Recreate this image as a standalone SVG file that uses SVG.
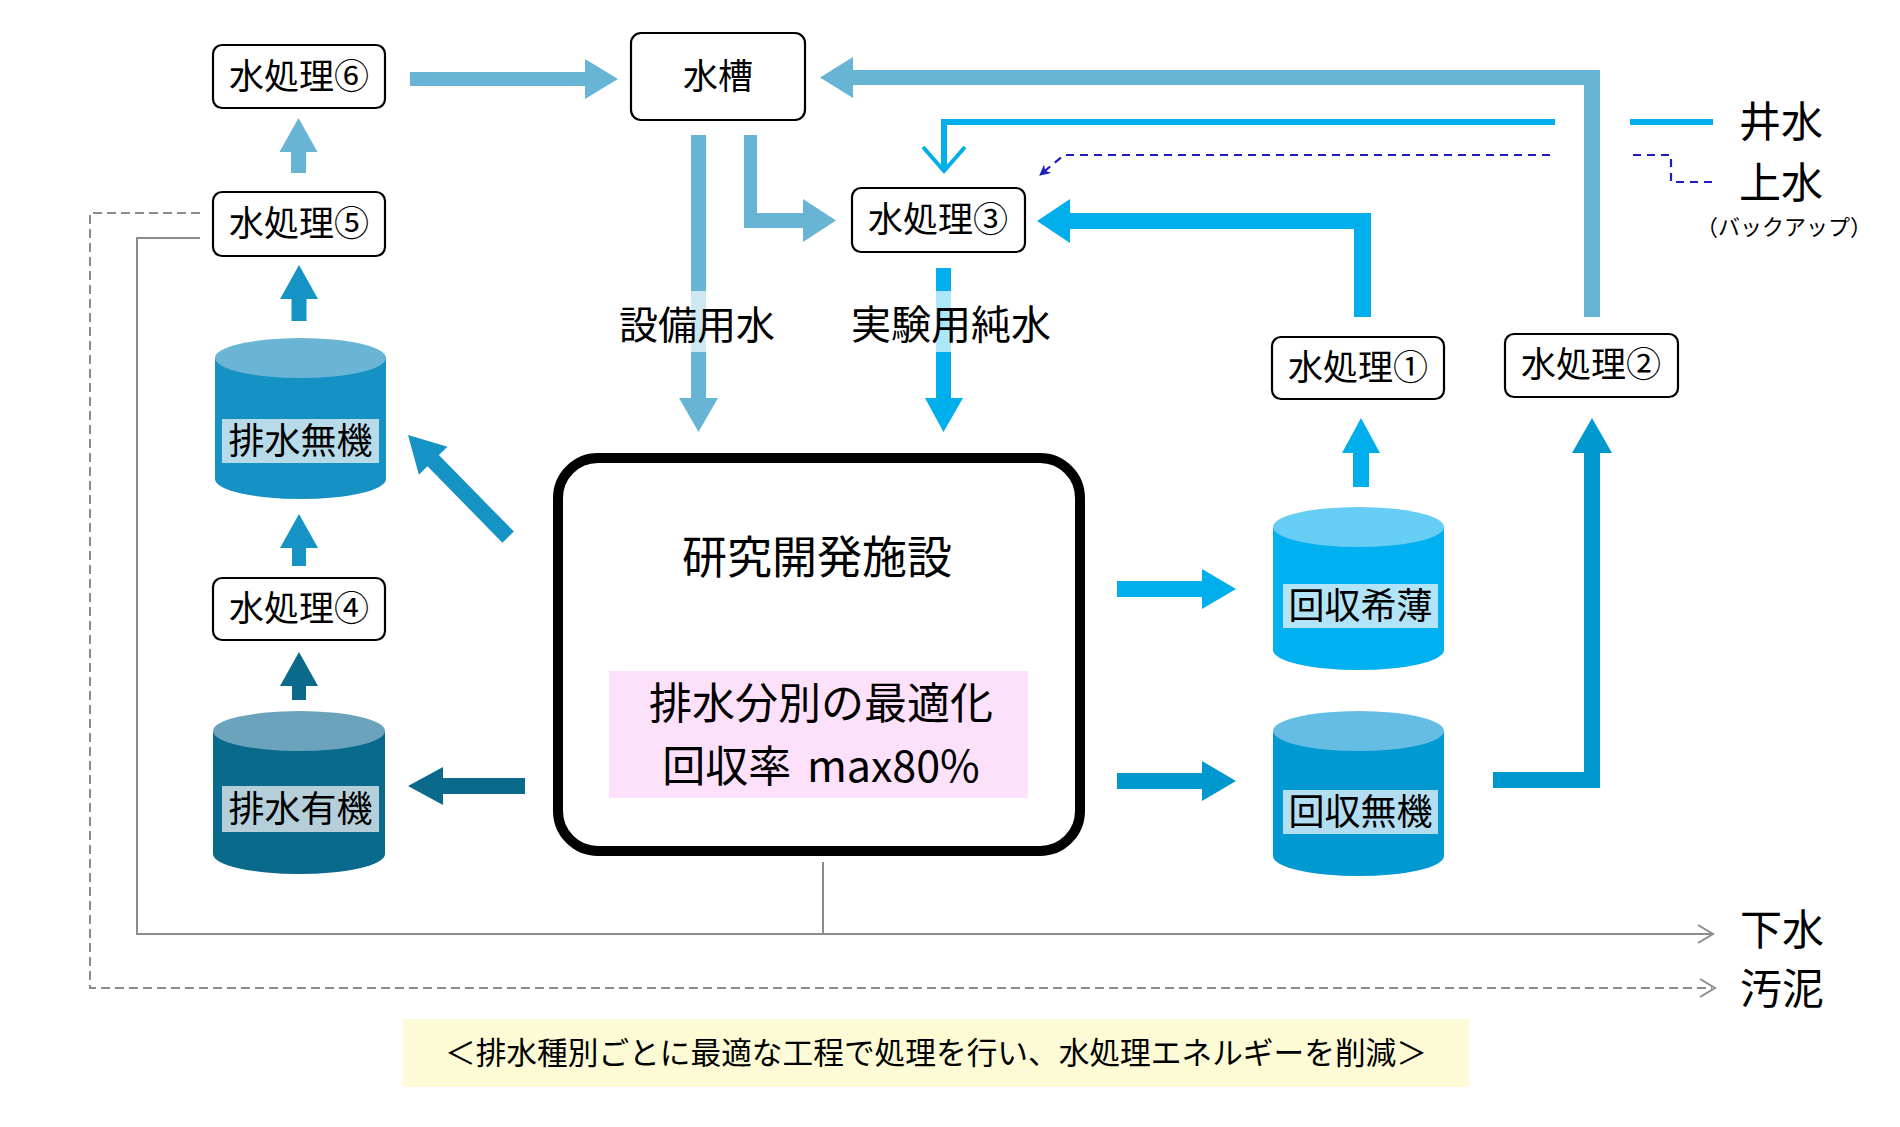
<svg xmlns="http://www.w3.org/2000/svg" width="1900" height="1127" viewBox="0 0 1900 1127">
<style>
text{font-family:"Noto Sans CJK JP","Noto Sans",sans-serif;fill:#000}
.box{fill:#fff;stroke:#000;stroke-width:2.2}
.bl{font-size:35px;text-anchor:middle}
.cl{font-size:36px;text-anchor:middle}
.big{font-size:45px;text-anchor:middle}
.side{font-size:42px}
.A{fill:#68b4d4}
.B{fill:#1593c5}
.C{fill:#0b6a8c}
.D{fill:#00aeeb}
.E{fill:#0099cf}
.gray{fill:none;stroke:#8c8c8c;stroke-width:2}
.lbg{fill:#fff;fill-opacity:0.68}
</style>
<defs>
<marker id="dh" viewBox="0 0 10 10" refX="9" refY="5" markerWidth="5" markerHeight="5" orient="auto" markerUnits="strokeWidth">
<path d="M0,0 L10,5 L0,10 L3,5 Z" fill="#1c1cc0"/>
</marker>
</defs>
<rect width="1900" height="1127" fill="#fff"/>

<g id="connectors">
<path class="gray" d="M200,238 H137 V934 H1711"/>
<path class="gray" d="M823,862 V934"/>
<path class="gray" d="M1698,925 L1713,934 L1698,943"/>
<path class="gray" d="M200,213 H90 V988 H1712" stroke-dasharray="9,5"/>
<path class="gray" d="M1700,979 L1715,988 L1700,997"/>
<path d="M1713,122 H1630" fill="none" stroke="#00aeeb" stroke-width="6"/>
<path d="M1555,122 H944 V168" fill="none" stroke="#00aeeb" stroke-width="6"/>
<path d="M923,147 L944,171 L965,147" fill="none" stroke="#00aeeb" stroke-width="4"/>
<path d="M1712,182 H1671 V155 H1628" fill="none" stroke="#1c1cc0" stroke-width="2.2" stroke-dasharray="8,6"/>
<path d="M1550,155 H1064 L1040,175" fill="none" stroke="#1c1cc0" stroke-width="2.2" stroke-dasharray="8,6" marker-end="url(#dh)"/>

<polygon class="A" points="410,72 585,72 585,59 618,79 585,99 585,86 410,86"/>
<polygon class="A" points="291,173 291,152 279.5,152 298.5,118 317.5,152 306,152 306,173"/>
<polygon class="B" points="291.5,321 291.5,299 280,299 299,265 318,299 306.5,299 306.5,321"/>
<polygon class="B" points="292,566 292,548 280,548 299,514 318,548 306,548 306,566"/>
<polygon class="C" points="292,700 292,686 280,686 299,652 318,686 306,686 306,700"/>
<polygon class="B" points="408,435 447.5,446.7 438.9,455.1 513.8,531.5 502.4,542.7 427.5,466.3 418.9,474.7"/>
<polygon class="C" points="525,778 443,778 443,767 408,786 443,805 443,794 525,794"/>
<polygon class="D" points="1117,581 1202,581 1202,569 1236,589 1202,609 1202,597 1117,597"/>
<polygon class="E" points="1117,773 1202,773 1202,761 1236,781 1202,801 1202,789 1117,789"/>
<polygon class="D" points="1353,487 1353,453 1342,453 1361,418 1380,453 1369,453 1369,487"/>
<polygon class="E" points="1493,772 1584,772 1584,453 1572,453 1592,418 1612,453 1600,453 1600,788 1493,788"/>
<polygon class="D" points="1371,317 1371,213 1070,213 1070,199 1037,221 1070,243 1070,229 1354,229 1354,317"/>
<polygon class="A" points="1600,317 1600,70 853,70 853,57 820,77.5 853,98 853,85 1584,85 1584,317"/>
<polygon class="A" points="691,135 706,135 706,398 718,398 698.5,432 679,398 691,398"/>
<polygon class="A" points="744,135 757,135 757,213 803,213 803,199 836,220.5 803,242 803,228 744,228"/>
<polygon class="D" points="936,268 951,268 951,398 963,398 943.5,432 925,398 936,398"/>
</g>

<g id="label-setsubi">
<rect class="lbg" x="616" y="291" width="162" height="61"/>
<text x="697" y="339" font-size="39" text-anchor="middle">設備用水</text>
</g>
<g id="label-jikken">
<rect class="lbg" x="848" y="291" width="206" height="61"/>
<text x="951" y="339" font-size="40" text-anchor="middle">実験用純水</text>
</g>

<g id="n6"><rect class="box" x="213" y="45" width="172" height="63" rx="9"/><text class="bl" x="299" y="89">水処理⑥</text></g>
<g id="tank"><rect class="box" x="631" y="33" width="174" height="87" rx="10"/><text class="bl" x="718" y="89">水槽</text></g>
<g id="n5"><rect class="box" x="213" y="192" width="172" height="64" rx="9"/><text class="bl" x="299" y="236">水処理⑤</text></g>
<g id="n3"><rect class="box" x="852" y="188" width="173" height="64" rx="9"/><text class="bl" x="938" y="232">水処理③</text></g>
<g id="n1"><rect class="box" x="1272" y="337" width="172" height="62" rx="9"/><text class="bl" x="1358" y="380">水処理①</text></g>
<g id="n2"><rect class="box" x="1505" y="334" width="173" height="63" rx="9"/><text class="bl" x="1591" y="377">水処理②</text></g>
<g id="n4"><rect class="box" x="213" y="578" width="172" height="62" rx="9"/><text class="bl" x="299" y="621">水処理④</text></g>

<g id="facility">
<rect x="558" y="458" width="522" height="393" rx="40" fill="#fff" stroke="#000" stroke-width="10"/>
<text class="big" x="817" y="574">研究開発施設</text>
<rect x="609" y="671" width="419" height="127" fill="#fde0fa"/>
<text x="821" y="719" font-size="43" text-anchor="middle">排水分別の最適化</text>
<text x="821" y="782" font-size="43" text-anchor="middle" word-spacing="6">回収率 max80%</text>
</g>

<g id="haisui-muki">
<path d="M215,358 V479 A85.5,20 0 0 0 386,479 V358 Z" fill="#1591c3"/>
<ellipse cx="300.5" cy="358" rx="85.5" ry="20" fill="#6ab4d6"/>
<rect x="222" y="419" width="157" height="44" fill="#b8dbea"/>
<text class="cl" x="300.5" y="454">排水無機</text>
</g>
<g id="haisui-yuki">
<path d="M213,731 V854 A86,20 0 0 0 385,854 V731 Z" fill="#0a6a8c"/>
<ellipse cx="299" cy="731" rx="86" ry="20" fill="#6aa3bb"/>
<rect x="222" y="786" width="157" height="46" fill="#b5cfda"/>
<text class="cl" x="300.5" y="822">排水有機</text>
</g>
<g id="kaishu-kihaku">
<path d="M1273,527 V650 A85.5,20 0 0 0 1444,650 V527 Z" fill="#00b0ef"/>
<ellipse cx="1358.5" cy="527" rx="85.5" ry="20" fill="#66cdf5"/>
<rect x="1283" y="584" width="155" height="44" fill="#b3e3f7"/>
<text class="cl" x="1360.5" y="619">回収希薄</text>
</g>
<g id="kaishu-muki">
<path d="M1273,731 V856 A85.5,20 0 0 0 1444,856 V731 Z" fill="#0099d1"/>
<ellipse cx="1358.5" cy="731" rx="85.5" ry="20" fill="#66bde3"/>
<rect x="1283" y="790" width="155" height="44" fill="#b3ddf0"/>
<text class="cl" x="1360.5" y="825">回収無機</text>
</g>

<g id="sources">
<text class="side" x="1739" y="137">井水</text>
<text class="side" x="1739" y="198">上水</text>
<text x="1784" y="235" font-size="22" text-anchor="middle">（バックアップ）</text>
<text class="side" x="1740" y="945">下水</text>
<text class="side" x="1740" y="1004">汚泥</text>
</g>

<g id="caption">
<rect x="403" y="1019" width="1066" height="68" fill="#fdfbd6"/>
<text x="936" y="1064" font-size="30.7" text-anchor="middle">＜排水種別ごとに最適な工程で処理を行い、水処理エネルギーを削減＞</text>
</g>
</svg>
